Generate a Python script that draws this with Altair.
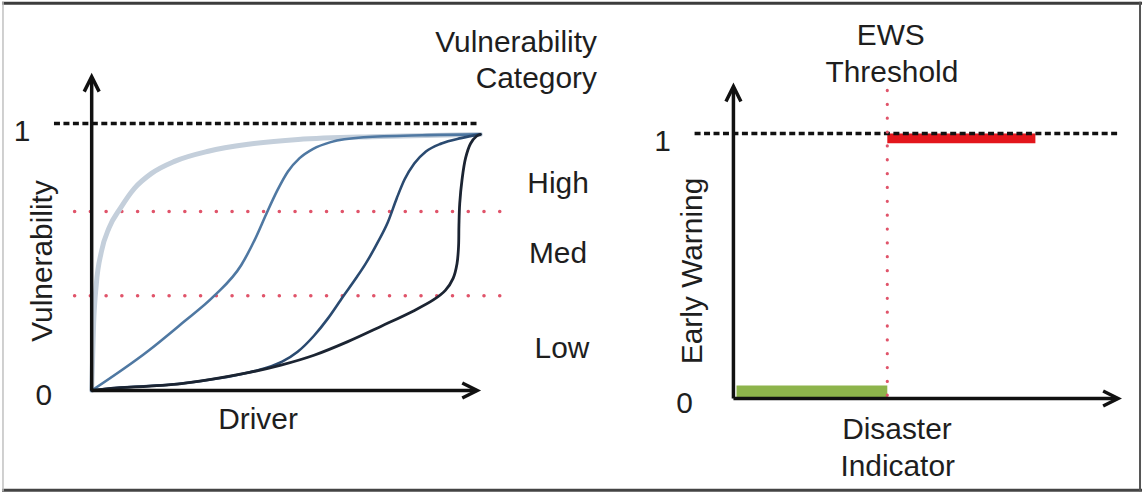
import altair as alt
import pandas as pd

# ---------------- data ----------------
# Vulnerability curves: Driver (0..1) against Vulnerability (0..1)
rapid_x = [0.0, 0.005, 0.012, 0.025, 0.045, 0.074, 0.11, 0.154, 0.213, 0.3, 0.403, 0.531, 0.744, 1.0]
rapid_y = [0.0, 0.25, 0.4, 0.52, 0.61, 0.683, 0.757, 0.813, 0.858, 0.896, 0.922, 0.94, 0.951, 0.959]

early_x = [0.0, 0.146, 0.231, 0.315, 0.385, 0.423, 0.449, 0.478, 0.505, 0.535, 0.57, 0.615, 0.7, 0.85, 1.0]
early_y = [0.0, 0.149, 0.25, 0.354, 0.47, 0.575, 0.66, 0.75, 0.82, 0.87, 0.905, 0.93, 0.948, 0.956, 0.959]

late_x = [0.0, 0.05, 0.231, 0.403, 0.45, 0.49, 0.53, 0.572, 0.608, 0.646, 0.68, 0.705, 0.738,
          0.762, 0.785, 0.805, 0.83, 0.86, 0.9, 0.95, 1.0]
late_y = [0.0, 0.008, 0.026, 0.067, 0.085, 0.108, 0.145, 0.205, 0.27, 0.35, 0.42, 0.475, 0.56,
          0.63, 0.72, 0.79, 0.85, 0.895, 0.925, 0.945, 0.959]

abrupt_x = [0.0, 0.05, 0.231, 0.403, 0.487, 0.572, 0.659, 0.744, 0.828, 0.88, 0.91, 0.93, 0.94,
            0.944, 0.945, 0.947, 0.953, 0.962, 0.975, 0.99, 1.0]
abrupt_y = [0.0, 0.008, 0.026, 0.067, 0.095, 0.132, 0.183, 0.24, 0.298, 0.34, 0.375, 0.42, 0.475,
            0.54, 0.62, 0.7, 0.79, 0.87, 0.925, 0.952, 0.959]

# Vulnerability category boundaries (Low / Med / High)
category_bounds = [0.355, 0.67]
category_names = ["Low", "Med", "High"]
category_label_y = [0.123, 0.478, 0.739]
category_label_x = [1.21, 1.2, 1.2]

# Early warning step: 0 below the threshold, 1 above it
ews_threshold = 0.4
warning_off_x = [0.008, 0.4]
warning_off_y = [0.004, 0.049]
warning_on_x = [0.4, 0.785]
warning_on_y = [0.963, 1.0]

# ---------------- styling ----------------
FONT = "Liberation Sans"
INK = "#1e1e1e"
AXIS = "#111111"
FS = 30
PW, PH = 572, 493
CHEVRON = "M-0.5,1L0,0L0.5,1"


def scales(x0_px, xunit, y0_px, yunit):
    xs = alt.Scale(domain=[-x0_px / xunit, (PW - x0_px) / xunit], nice=False, zero=False)
    ys = alt.Scale(domain=[(y0_px - PH) / yunit, y0_px / yunit], nice=False, zero=False)
    return xs, ys


def segments(df, xs, ys, **mark):
    return alt.Chart(pd.DataFrame(df)).mark_rule(**mark).encode(
        x=alt.X("x:Q", scale=xs, axis=None), x2="x2:Q",
        y=alt.Y("y:Q", scale=ys, axis=None), y2="y2:Q")


def arrowheads(df, xs, ys):
    return alt.Chart(pd.DataFrame(df)).mark_point(
        shape=CHEVRON, size=900, filled=False, strokeWidth=3.5, color=AXIS,
        opacity=1, strokeJoin="miter").encode(
        x=alt.X("x:Q", scale=xs, axis=None),
        y=alt.Y("y:Q", scale=ys, axis=None),
        angle=alt.Angle("angle:Q", scale=None))


def labels(df, xs, ys, **mark):
    return alt.Chart(pd.DataFrame(df)).mark_text(
        font=FONT, fontSize=FS, color=INK, baseline="alphabetic", **mark).encode(
        x=alt.X("x:Q", scale=xs, axis=None),
        y=alt.Y("y:Q", scale=ys, axis=None),
        text="label:N")


def curve(cx, cy, color, width, xs, ys, interp="monotone"):
    df = pd.DataFrame({"x": cx, "y": cy, "i": list(range(len(cx)))})
    return alt.Chart(df).mark_line(
        color=color, strokeWidth=width, interpolate=interp,
        strokeCap="round", strokeJoin="round").encode(
        x=alt.X("x:Q", scale=xs, axis=None),
        y=alt.Y("y:Q", scale=ys, axis=None),
        order="i:Q")


def rect(rx, ry, color, xs, ys):
    df = pd.DataFrame({"x": [rx[0]], "x2": [rx[1]], "y": [ry[0]], "y2": [ry[1]]})
    return alt.Chart(df).mark_rect(color=color).encode(
        x=alt.X("x:Q", scale=xs, axis=None), x2="x2:Q",
        y=alt.Y("y:Q", scale=ys, axis=None), y2="y2:Q")


def frame(color, width, **enc):
    return alt.Chart(pd.DataFrame({"k": [0]})).mark_rule(
        color=color, strokeWidth=width).encode(**enc)


DOT_RED = "#e0546a"

# ---------------- left panel: vulnerability curves ----------------
lx, ly = scales(90, 390, 390, 268)

left = alt.layer(
    segments({"x": [-0.044] * 2, "x2": [1.056] * 2, "y": category_bounds, "y2": category_bounds},
             lx, ly, color=DOT_RED, strokeWidth=3.5, strokeDash=[0.1, 15.7], strokeCap="round"),
    segments({"x": [-0.097], "x2": [0.995], "y": [1.0], "y2": [1.0]},
             lx, ly, color=AXIS, strokeWidth=3.5, strokeDash=[6, 3.5]),
    curve(rapid_x, rapid_y, "#c4cfdb", 5, lx, ly),
    curve(early_x, early_y, "#4f78a2", 2.6, lx, ly),
    curve(late_x, late_y, "#2a4a70", 2.6, lx, ly),
    curve(abrupt_x, abrupt_y, "#1b2432", 2.8, lx, ly, interp="catmull-rom"),
    segments({"x": [0.0, 0.0], "x2": [0.0, 0.99], "y": [0.0, 0.0], "y2": [1.172, 0.0]},
             lx, ly, color=AXIS, strokeWidth=3.5),
    arrowheads({"x": [0.0, 0.992], "y": [1.175, 0.0], "angle": [0, 90]}, lx, ly),
    labels({"x": [-0.179, -0.123, 0.428] + category_label_x,
            "y": [0.933, -0.056, -0.146] + category_label_y,
            "label": ["1", "0", "Driver"] + category_names}, lx, ly, align="center"),
    labels({"x": [1.3, 1.3], "y": [1.269, 1.134], "label": ["Vulnerability", "Category"]},
           lx, ly, align="right"),
    labels({"x": [-0.103], "y": [0.485], "label": ["Vulnerability"]},
           lx, ly, align="center", angle=270),
    frame("#3c3c3c", 3, x=alt.value(0), x2=alt.value(PW), y=alt.value(1.5)),
    frame("#444444", 3, x=alt.value(0), x2=alt.value(PW), y=alt.value(490)),
    frame("#c0c0c0", 1.5, x=alt.value(1), y=alt.value(0), y2=alt.value(491)),
).properties(width=PW, height=PH)

# ---------------- right panel: early warning step ----------------
rx, ry = scales(162, 386, 398, 266)

right = alt.layer(
    rect(warning_on_x, warning_on_y, "#e3161c", rx, ry),
    rect(warning_off_x, warning_off_y, "#8db44b", rx, ry),
    segments({"x": [-0.101], "x2": [1.005], "y": [1.0], "y2": [1.0]},
             rx, ry, color=AXIS, strokeWidth=3.5, strokeDash=[6, 3.5]),
    segments({"x": [ews_threshold], "x2": [ews_threshold], "y": [1.162], "y2": [-0.015]},
             rx, ry, color=DOT_RED, strokeWidth=3.2, strokeDash=[0.1, 13.8], strokeCap="round"),
    segments({"x": [0.0, 0.0], "x2": [0.0, 0.997], "y": [0.0, 0.0], "y2": [1.174, 0.0]},
             rx, ry, color=AXIS, strokeWidth=3.5),
    arrowheads({"x": [0.0, 1.0], "y": [1.177, 0.0], "angle": [0, 90]}, rx, ry),
    labels({"x": [-0.184, -0.127, 0.409, 0.412, 0.425, 0.427],
            "y": [0.932, -0.056, 1.335, 1.195, -0.154, -0.293],
            "label": ["1", "0", "EWS", "Threshold", "Disaster", "Indicator"]},
           rx, ry, align="center"),
    labels({"x": [-0.083], "y": [0.481], "label": ["Early Warning"]},
           rx, ry, align="center", angle=270),
    frame("#3c3c3c", 3, x=alt.value(0), x2=alt.value(PW), y=alt.value(1.5)),
    frame("#444444", 3, x=alt.value(0), x2=alt.value(PW), y=alt.value(490)),
    frame("#555555", 2, x=alt.value(570), y=alt.value(0), y2=alt.value(491)),
).properties(width=PW, height=PH)

chart = alt.hconcat(left, right, spacing=0, bounds="flush").properties(
    padding=0, background="white"
).configure_view(stroke=None)

chart.save("out.html", embed_options={"renderer": "svg", "actions": False})
